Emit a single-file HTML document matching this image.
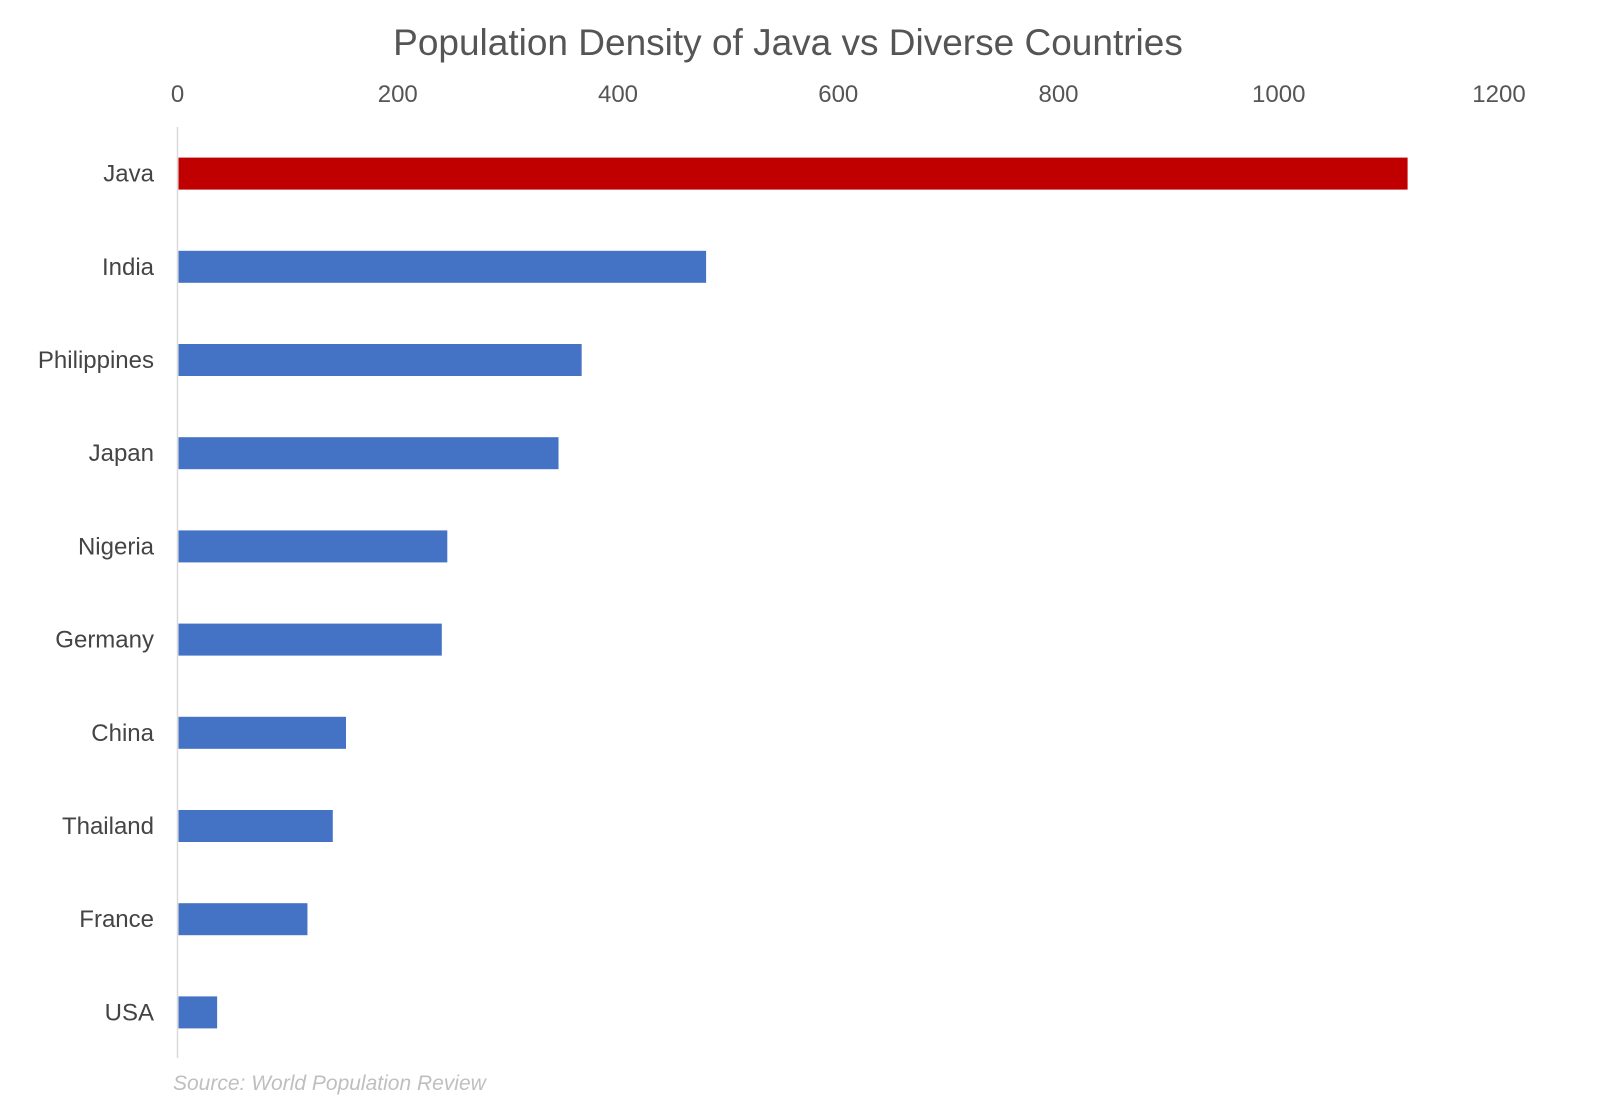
<!DOCTYPE html>
<html><head><meta charset="utf-8"><style>
body{margin:0;background:#fff;width:1600px;height:1099px;overflow:hidden;font-family:"Liberation Sans",sans-serif}
</style></head><body>
<svg width="1600" height="1099">
<text x="788" y="55" text-anchor="middle" font-size="37" fill="#555">Population Density of Java vs Diverse Countries</text>
<g id="ticks"></g>
<line x1="177.5" y1="127" x2="177.5" y2="1058" stroke="#d9d9d9" stroke-width="1.5"/>
<g id="bars"></g>
<text x="173" y="1090" font-size="21" font-style="italic" fill="#bfbfbf">Source: World Population Review</text>
</svg>
<script>
const categories=["Java","India","Philippines","Japan","Nigeria","Germany","China","Thailand","France","USA"];
const values=[1117,480,367,346,245,240,153,141,118,36];
const tickValues=[0,200,400,600,800,1000,1200];
const ns="http://www.w3.org/2000/svg";
const x0=177.5,x1=1499,vmax=1200;
const xs=v=>x0+(x1-x0)*v/vmax;
const top0=127,step=93.2;
const yc=i=>top0+step*(i+0.5);
const tg=document.getElementById('ticks');
tickValues.forEach(t=>{const e=document.createElementNS(ns,'text');


e.setAttribute('x',xs(t));e.setAttribute('y',102);e.setAttribute('text-anchor','middle');e.setAttribute('font-size','24');e.setAttribute('fill','#555');e.textContent=t;tg.appendChild(e);});
const bg=document.getElementById('bars');
categories.forEach((c,i)=>{const r=document.createElementNS(ns,'rect');


r.setAttribute('x',x0+1);r.setAttribute('y',yc(i)-16);r.setAttribute('width',xs(values[i])-x0-1);r.setAttribute('height',32);
r.setAttribute('fill',i===0?'#c00000':'#4472c4');bg.appendChild(r);
const l=document.createElementNS(ns,'text');


l.setAttribute('x',154);l.setAttribute('y',yc(i)+8);l.setAttribute('text-anchor','end');l.setAttribute('font-size','24');l.setAttribute('fill','#444');l.textContent=c;bg.appendChild(l);});
</script>
</body></html>
